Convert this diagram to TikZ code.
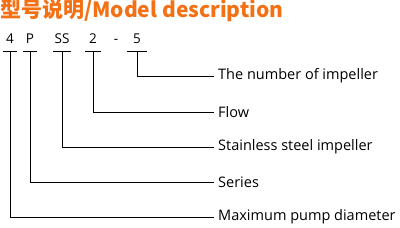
\documentclass[tikz,border=0pt]{standalone}
\usepackage{fontspec}
\setmainfont{Open Sans}
\newfontfamily\cjk{Noto Sans CJK SC}
\usepackage{xcolor}
\usepackage{tikz}
\usetikzlibrary{positioning,calc}
\definecolor{titleorange}{RGB}{243,112,20}

\begin{document}
\begin{tikzpicture}[x=1pt, y=-1pt, every node/.style={inner sep=0pt, font=\fontsize{14.5}{16}\selectfont},
  codeletter/.style={anchor=base, font=\fontsize{13.5}{15}\selectfont},
  desc/.style={anchor=west},
  bar/.style={line width=0.8pt},
  leader/.style={line width=0.8pt}]
  \useasboundingbox (0,0) rectangle (400,228);
  % Title
  \node[anchor=west, text=titleorange, font=\cjk\bfseries\fontsize{21}{23}\selectfont] (title) at (0,11) {型号说明/Model description};
  % Model code
  \node[codeletter] (c4) at (10,43) {4};
  \node[codeletter] (cP) at (30,43) {P};
  \node[codeletter] (cSS) at (62,43) {SS};
  \node[codeletter] (c2) at (93,43) {2};
  \node[codeletter] (cdash) at (116,43) {-};
  \node[codeletter] (c5) at (137,43) {5};
  % Descriptions
  \node[desc] (dImp) at (218,76) {The number of impeller};
  \node[desc] (dFlow) at (218,112) {Flow};
  \node[desc] (dSteel) at (218,147) {Stainless steel impeller};
  \node[desc] (dSer) at (218,182) {Series};
  \node[desc] (dMax) at (218,217) {Maximum pump diameter};
  % T bars
  \draw[bar] ($(c4.base)+(-7,8)$) -- ++(14,0) coordinate[midway] (t4);
  \draw[bar] ($(cP.base)+(-7,8)$) -- ++(14,0) coordinate[midway] (tP);
  \draw[bar] ($(cSS.base)+(-9,8)$) -- ++(18,0) coordinate[midway] (tSS);
  \draw[bar] ($(c2.base)+(-8,8)$) -- ++(16,0) coordinate[midway] (t2);
  \draw[bar] ($(c5.base)+(-10,8)$) -- ++(20,0) coordinate[midway] (t5);
  % Leaders
  \draw[leader] (t5) |- ([xshift=-4pt]dImp.west);
  \draw[leader] (t2) |- ([xshift=-4pt]dFlow.west);
  \draw[leader] (tSS) |- ([xshift=-4pt]dSteel.west);
  \draw[leader] (tP) |- ([xshift=-4pt]dSer.west);
  \draw[leader] (t4) |- ([xshift=-4pt]dMax.west);
\end{tikzpicture}
\end{document}
